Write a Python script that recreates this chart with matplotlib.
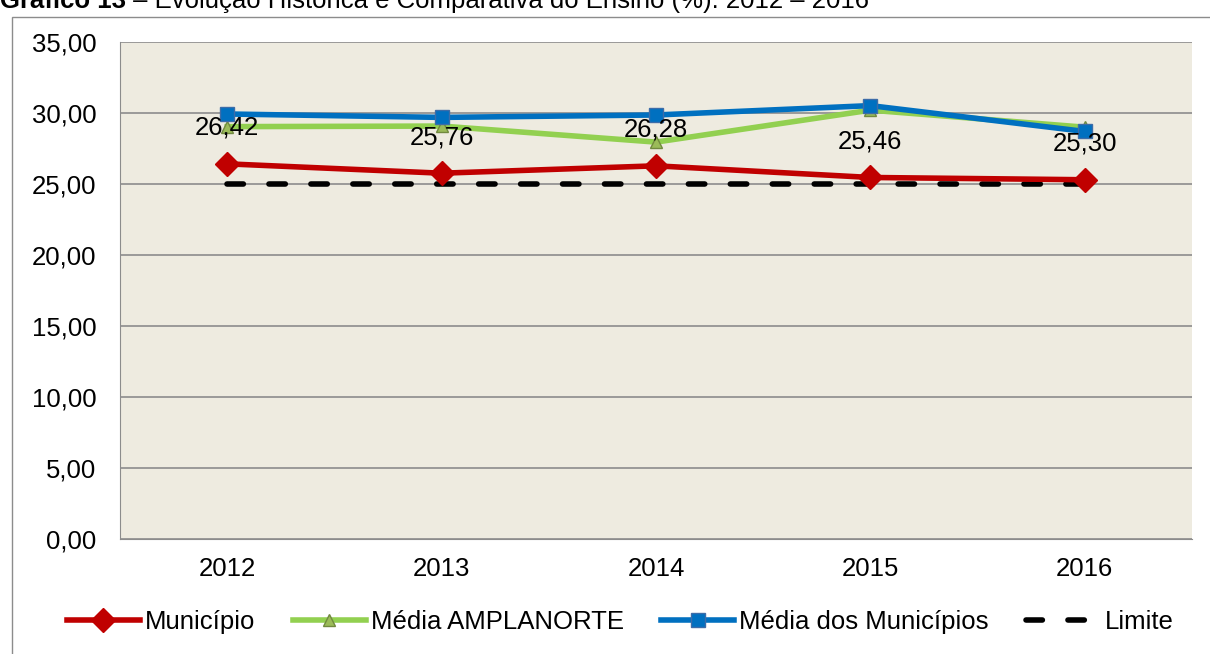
import matplotlib
matplotlib.use("Agg")
import matplotlib.pyplot as plt
from matplotlib.patches import Rectangle

years = ["2012", "2013", "2014", "2015", "2016"]
municipio = [26.42, 25.76, 26.28, 25.46, 25.30]
media_amplanorte = [29.04, 29.08, 27.95, 30.2, 29.0]
media_municipios = [29.93, 29.69, 29.86, 30.52, 28.7]
limite = [25.0, 25.0, 25.0, 25.0, 25.0]
yticks = [0, 5, 10, 15, 20, 25, 30, 35]
labels_mun = ["26,42", "25,76", "26,28", "25,46", "25,30"]

plt.rcParams['font.family'] = ['Liberation Sans', 'DejaVu Sans']
FS = 18.5

W, H = 1210, 654
fig = plt.figure(figsize=(W/100, H/100), dpi=100)
fig.patch.set_facecolor('white')

# outer frame
fig.patches.append(Rectangle((12/W, -0.01), 1.2, (H-17)/H + 0.01, transform=fig.transFigure,
                             fill=False, edgecolor='#8c8c8c', linewidth=1.0))

# title (cut off at the top edge as in the source)
t1 = fig.text(0/W, 1 - 8/H, "Gráfico 13", fontsize=FS, fontweight='bold', va='baseline', ha='left')
fig.add_artist(plt.Annotation(" – Evolução Histórica e Comparativa do Ensino (%): 2012 – 2016",
                              xy=(1, 0), xycoords=t1, va='bottom', ha='left', fontsize=FS))

ax = fig.add_axes([120/W, 1 - 539/H, (1192-120)/W, (539-42)/H])
ax.set_facecolor('#EEEBE0')
x = list(range(len(years)))

LW = 4
ax.plot(x, limite, color='black', linestyle=(0, (2.95, 4.6)), linewidth=LW, dash_capstyle='round',
        label='Limite', zorder=3)
ax.plot(x, municipio, color='#C00000', linewidth=LW, marker='D', markersize=12,
        markerfacecolor='#C00000', markeredgecolor='#C00000', label='Município', zorder=4)
ax.plot(x, media_amplanorte, color='#92D050', linewidth=LW, marker='^', markersize=9,
        markerfacecolor='#9BBB59', markeredgecolor='#71893F', label='Média AMPLANORTE', zorder=5)
ax.plot(x, media_municipios, color='#0070C0', linewidth=LW, marker='s', markersize=9.5,
        markerfacecolor='#0070C0', markeredgecolor='#3D6CA8', label='Média dos Municípios', zorder=6)

for xi, yv, lab in zip(x, municipio, labels_mun):
    ax.annotate(lab, xy=(xi, yv), xytext=(0, 26), textcoords='offset points',
                ha='center', va='center', fontsize=FS, zorder=7)

ax.set_xlim(-0.5, 4.5)
ax.set_ylim(0, 35)
ax.set_yticks(yticks)
ax.set_yticklabels([f"{v:.2f}".replace('.', ',') for v in yticks], fontsize=FS)
ax.set_xticks(x)
ax.set_xticklabels(years, fontsize=FS)
ax.tick_params(axis='x', length=0, pad=13)
ax.tick_params(axis='y', length=0, pad=17)
ax.yaxis.grid(True, color='#8c8c8c', linewidth=1.2)
ax.set_axisbelow(True)
for s in ['top', 'right']:
    ax.spines[s].set_visible(False)
ax.spines['left'].set_color('#8c8c8c')
ax.spines['bottom'].set_color('#8c8c8c')

handles, labs = ax.get_legend_handles_labels()
order = [1, 2, 3, 0]
fig.legend([handles[i] for i in order], [labs[i] for i in order], loc='center',
           bbox_to_anchor=(620/W, 1 - 622/H), ncol=4, frameon=False, fontsize=FS,
           handlelength=2.85, columnspacing=1.45, handletextpad=0.2)

fig.savefig("out.png", dpi=100)
